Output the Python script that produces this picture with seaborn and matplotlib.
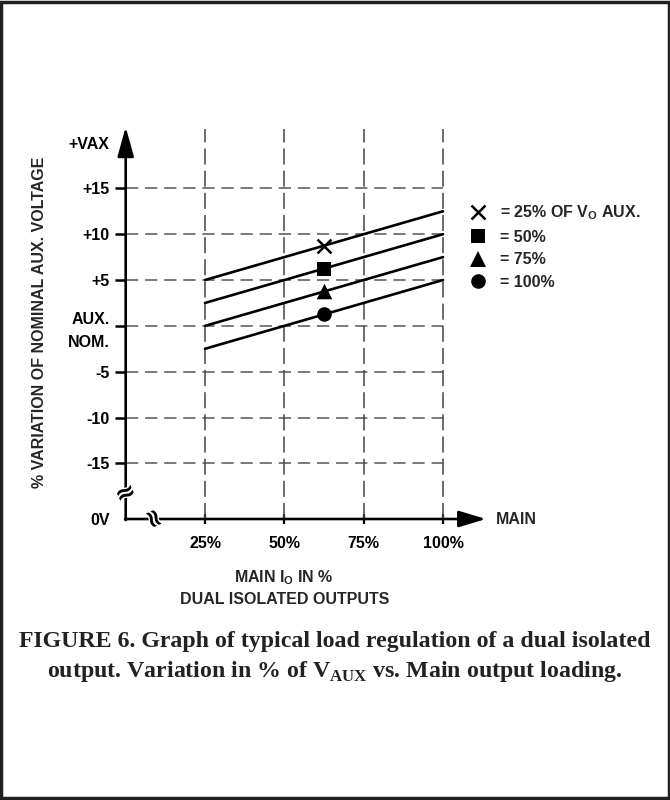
import numpy as np
import pandas as pd
import matplotlib
matplotlib.use("Agg")
import matplotlib.pyplot as plt
import matplotlib.transforms as mtransforms
import matplotlib.patheffects as pe
from matplotlib.lines import Line2D
from matplotlib.patches import Rectangle
import seaborn as sns

# ---------------- data ----------------
load_pct = [25, 100]
aux_25 = [5.0, 12.5]
aux_50 = [2.5, 10.0]
aux_75 = [0.0, 7.5]
aux_100 = [-2.5, 5.0]
series_names = ["25%", "50%", "75%", "100%"]
marker_load = [62.5, 62.5, 62.5, 62.5]
marker_var = [8.75, 6.25, 3.75, 1.25]
marker_shapes = ["x", "s", "^", "o"]
legend_labels = [r"= 25% OF V$_{\mathbf{O}}$ AUX.", "= 50%", "= 75%", "= 100%"]
y_ticks = [20, 15, 10, 5, 0, -5, -10, -15, -21.07]
y_ticklabels = ["+VAX", "+15", "+10", "+5", "AUX.\nNOM.", "-5", "-10", "-15", "0V"]
y_grid = [15, 10, 5, 0, -5, -10, -15]
x_ticks = [25, 50, 75, 100]
x_ticklabels = ["25%", "50%", "75%", "100%"]

Y_BOT, Y_TOP = -21.07, 22.0
X_MIN, X_MAX = 0, 115

# ---------------- style ----------------
sns.set_theme(style="white")
plt.rcParams["font.family"] = ["Liberation Sans", "DejaVu Sans"]
plt.rcParams["font.weight"] = "bold"
plt.rcParams["mathtext.fontset"] = "custom"
plt.rcParams["mathtext.bf"] = "Liberation Sans:bold"
plt.rcParams["mathtext.rm"] = "Liberation Serif:bold"

FS = 11.5

fig = plt.figure(figsize=(6.7, 8), dpi=100)
fig.patch.set_facecolor("white")
ax = fig.add_axes([125.7 / 670, 281 / 800, 364.9 / 670, 394.8 / 800])
ax.set_xlim(X_MIN, X_MAX)
ax.set_ylim(Y_BOT, Y_TOP)
for s in ax.spines.values():
    s.set_visible(False)
ax.set_facecolor("none")

# grid (dashed)
ax.hlines(y_grid, 0, 100, colors="#555555", lw=1.1, linestyles=(0, (8, 4.5)), zorder=1)
ax.vlines(x_ticks, Y_BOT, 21.5, colors="#444444", lw=1.1, linestyles=(0, (10.5, 4)), zorder=1)

# regulation lines
df = pd.DataFrame({
    "load": load_pct * 4,
    "variation": aux_25 + aux_50 + aux_75 + aux_100,
    "series": np.repeat(series_names, 2),
})
sns.lineplot(data=df, x="load", y="variation", hue="series", palette=["black"] * 4,
             lw=1.9, legend=False, ax=ax, zorder=3)

# markers
msizes = [100, 90, 125, 110]
for xi, yi, m, sz in zip(marker_load, marker_var, marker_shapes, msizes):
    if m == "x":
        ax.scatter([xi], [yi], marker=m, s=sz, color="black", linewidths=1.8, zorder=4)
    else:
        sns.scatterplot(x=[xi], y=[yi], marker=m, s=sz, color="black",
                        edgecolor="black", linewidth=0, ax=ax, zorder=4, legend=False)
ax.set_xlabel("")
ax.set_ylabel("")

# axes with arrows
ax.annotate("", xy=(0, 21.7), xytext=(0, Y_BOT - 0.12), xycoords="data",
            arrowprops=dict(arrowstyle="-|>,head_length=0.72,head_width=0.2",
                            mutation_scale=25, lw=1.9, color="black",
                            shrinkA=0, shrinkB=0), annotation_clip=False, zorder=5)
ax.annotate("", xy=(113.5, Y_BOT), xytext=(-0.2, Y_BOT), xycoords="data",
            arrowprops=dict(arrowstyle="-|>,head_length=0.66,head_width=0.2",
                            mutation_scale=25, lw=1.9, color="black",
                            shrinkA=0, shrinkB=0), annotation_clip=False, zorder=5)

# ticks
ax.set_yticks(y_ticks, y_ticklabels)
ax.set_xticks(x_ticks, x_ticklabels)
ax.tick_params(axis="y", left=True, direction="out", length=8, width=1.8, pad=3.6,
               labelsize=FS, colors="black")
ax.tick_params(axis="x", bottom=True, direction="inout", length=7.5, width=1.6, pad=8.3,
               labelsize=FS, colors="black")
yt = ax.yaxis.get_major_ticks()
yt[0].tick1line.set_visible(False)
yt[-1].tick1line.set_visible(False)
for lab in ax.get_yticklabels():
    lab.set_fontweight("bold")
    lab.set_linespacing(1.6)
for lab in ax.get_xticklabels():
    lab.set_fontweight("bold")

# axis breaks
ax.text(0, -18.3, "≈", ha="center", va="center", fontsize=18, rotation=25,
        color="black", zorder=6, family="DejaVu Sans",
        path_effects=[pe.withStroke(linewidth=2, foreground="white")])
ax.text(8.6, Y_BOT, "≈", ha="center", va="center", fontsize=18, rotation=-65,
        color="black", zorder=6, family="DejaVu Sans",
        path_effects=[pe.withStroke(linewidth=2, foreground="white")])

# labels
ax.text(116.8, Y_BOT, "MAIN", ha="left", va="center", fontsize=FS, fontweight="bold")
fig.text(40 / 670, (800 - 322) / 800, "% VARIATION OF NOMINAL AUX. VOLTAGE",
         rotation=90, ha="center", va="center", fontsize=FS, fontweight="bold")
bt = mtransforms.blended_transform_factory(ax.transData, fig.transFigure)
ax.text(50, (800 - 578) / 800, r"MAIN I$_{\mathbf{O}}$ IN %", transform=bt,
        ha="center", va="center", fontsize=FS, fontweight="bold")
ax.text(50, (800 - 599) / 800, "DUAL ISOLATED OUTPUTS", transform=bt,
        ha="center", va="center", fontsize=FS, fontweight="bold")

# legend
handles = [
    Line2D([], [], ls="none", marker=m, color="black", markersize=ms, mew=mw)
    for m, ms, mw in zip(marker_shapes, [10, 9.5, 11, 10.5], [1.8, 0, 0, 0])
]
leg = fig.legend(handles, legend_labels, loc="upper left",
                 bbox_to_anchor=(470 / 670, (800 - 203.5) / 800),
                 bbox_transform=fig.transFigure, frameon=False, fontsize=FS,
                 handlelength=1.0, handletextpad=0.85, labelspacing=0.47,
                 borderpad=0, borderaxespad=0)
for t in leg.get_texts():
    t.set_fontweight("bold")

# caption
cap_kw = dict(ha="center", va="center", fontsize=17.2, fontweight="bold",
              family=["Liberation Serif", "DejaVu Serif"], color="#222222")
fig.text(0.5, (800 - 642) / 800,
         "FIGURE 6. Graph of typical load regulation of a dual isolated", **cap_kw)
fig.text(0.5, (800 - 671) / 800,
         r"output. Variation in % of V$_{\mathrm{AUX}}$ vs. Main output loading.", **cap_kw)

# frame
fig.patches.append(Rectangle((0.002, 0.002), 0.996, 0.996, transform=fig.transFigure,
                             fill=False, lw=2.5, ec="#222222"))

fig.savefig("out.png", dpi=100)
